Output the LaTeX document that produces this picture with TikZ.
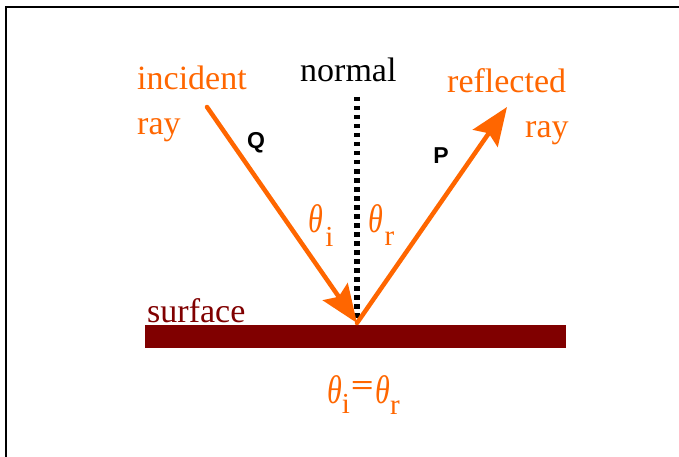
\documentclass[tikz,border=0pt]{standalone}
\usepackage{fontspec}
\setmainfont{Liberation Serif}
\newfontfamily\sansb{Liberation Sans}
\usetikzlibrary{arrows.meta}
\definecolor{rayc}{HTML}{FF6600}
\definecolor{surfc}{HTML}{800000}
\begin{document}
\begin{tikzpicture}[x=1pt,y=-1pt,
  lbl/.style={inner sep=0,anchor=base west,font=\fontsize{34}{34}\selectfont},
  pq/.style={inner sep=0,anchor=center,font=\sansb\bfseries\fontsize{23}{23}\selectfont},
  thetanode/.style={inner sep=0,anchor=center,text=rayc,xscale=0.75,font=\itshape\fontsize{40}{40}\selectfont},
  subnode/.style={inner sep=0,anchor=center,text=rayc,font=\fontsize{29}{29}\selectfont},
  raystyle/.style={draw=rayc,line width=4.5pt,line cap=round},
  rayarrow/.style={-{Stealth[length=38pt,width=30pt,inset=6pt]}},
  normalstyle/.style={draw=black,line width=5.5pt,dash pattern=on 4.5pt off 4.5pt}]
\useasboundingbox (0,0) rectangle (679,457);
\draw[line width=2pt] (6,457) -- (6,7) -- (679,7);
% surface
\fill[surfc] (145,325) rectangle (566,348);
\node[lbl,text=surfc] (surf) at (147,322) {surface};
% labels
\node[lbl,text=rayc] (inc) at (137,90) {incident};
\node[lbl,text=rayc] (incray) at (137,135) {ray};
\node[lbl,text=black] (norm) at (300,82) {normal};
\node[lbl,text=rayc] (refl) at (447,93) {reflected};
\node[lbl,text=rayc] (reflray) at (525,138) {ray};
\node[pq] (Q) at (256,143) {Q};
\node[pq] (P) at (441,156) {P};
% rays
\coordinate (A) at (207,107);
\coordinate (O) at (357,323);
\coordinate (B) at (507,107);
\coordinate (N1) at (357,97);
\coordinate (N2) at (357,318);
\draw[normalstyle] (N1) -- (N2);
\draw[raystyle,rayarrow,fill=rayc] (A) -- (O);
\draw[raystyle,rayarrow,fill=rayc] (O) -- (B);
% angles
\node[thetanode] (ti) at (315.5,219) {θ};
\node[subnode] (si) at (329.5,237) {i};
\node[thetanode] (tr) at (375.5,219) {θ};
\node[subnode] (sr) at (389.5,238.5) {r};
% formula
\node[thetanode] (fti) at (334.5,389.5) {θ};
\node[subnode] (fsi) at (346,404) {i};
\node[subnode,xscale=1.35,font=\bfseries\fontsize{30}{30}\selectfont] (eq) at (362.5,388.5) {=};
\node[thetanode] (ftr) at (382.5,389.5) {θ};
\node[subnode] (fsr) at (395,407.5) {r};
\end{tikzpicture}
\end{document}
